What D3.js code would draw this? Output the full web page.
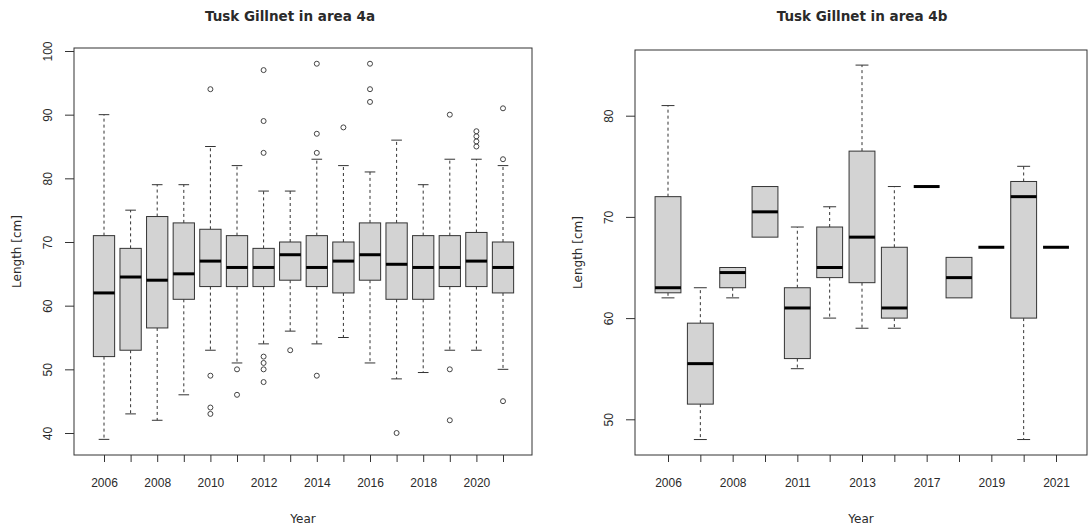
<!DOCTYPE html>
<html><head><meta charset="utf-8">
<script src="https://cdn.jsdelivr.net/npm/d3@7"></script>
<style>body{margin:0;background:#fff}svg{display:block;font-family:"DejaVu Sans",Verdana,sans-serif}</style>
</head><body>
<svg id="c" width="1089" height="527"></svg>
<script>
// ---------- Data: area 4a ----------
const yearsA = ["2006","2007","2008","2009","2010","2011","2012","2013","2014","2015","2016","2017","2018","2019","2020","2021"];
const loA  = [39, 43, 42, 46, 53, 51, 54, 56, 54, 55, 51, 48.5, 49.5, 53, 53, 50];
const q1A  = [52, 53, 56.5, 61, 63, 63, 63, 64, 63, 62, 64, 61, 61, 63, 63, 62];
const medA = [62, 64.5, 64, 65, 67, 66, 66, 68, 66, 67, 68, 66.5, 66, 66, 67, 66];
const q3A  = [71, 69, 74, 73, 72, 71, 69, 70, 71, 70, 73, 73, 71, 71, 71.5, 70];
const hiA  = [90, 75, 79, 79, 85, 82, 78, 78, 83, 82, 81, 86, 79, 83, 83, 82];
const outA = [[], [], [], [], [94, 49, 44, 43], [50, 46], [97, 89, 84, 52, 51, 50, 48], [53],
              [98, 87, 84, 49], [88], [98, 94, 92], [40], [], [90, 50, 42], [87.4, 86.6, 85.8, 85], [91, 83, 45]];
const yTicksA = [40, 50, 60, 70, 80, 90, 100];

// ---------- Data: area 4b ----------
const yearsB = ["2006","2007","2008","2010","2011","2012","2013","2016","2017","2018","2019","2020","2021"];
const loB  = [62, 48, 62, 68, 55, 60, 59, 59, 73, 62, 67, 48, 67];
const q1B  = [62.5, 51.5, 63, 68, 56, 64, 63.5, 60, 73, 62, 67, 60, 67];
const medB = [63, 55.5, 64.5, 70.5, 61, 65, 68, 61, 73, 64, 67, 72, 67];
const q3B  = [72, 59.5, 65, 73, 63, 69, 76.5, 67, 73, 66, 67, 73.5, 67];
const hiB  = [81, 63, 65, 73, 69, 71, 85, 73, 73, 66, 67, 75, 67];
const yTicksB = [50, 60, 70, 80];

const titles = ["Tusk Gillnet in area 4a", "Tusk Gillnet in area 4b"];
const xTitle = "Year", yTitle = "Length [cm]";

const svg = d3.select("#c");
const ink = "#333";
const txt = "#2a2a2a";

function panel(cfg) {
  const g = svg.append("g");
  const x = d3.scalePoint().domain(cfg.years).range([cfg.firstX, cfg.lastX]);
  const y = d3.scaleLinear().domain(cfg.yDom).range(cfg.yRange);
  const bw = x.step() * 0.8;

  // frame
  g.append("rect").attr("x", cfg.x0).attr("y", cfg.y0)
    .attr("width", cfg.x1 - cfg.x0).attr("height", cfg.y1 - cfg.y0)
    .attr("fill", "none").attr("stroke", ink).attr("stroke-width", 1);

  const data = cfg.years.map((yr, i) => ({yr, lo: cfg.lo[i], q1: cfg.q1[i], med: cfg.med[i], q3: cfg.q3[i], hi: cfg.hi[i], out: cfg.out ? cfg.out[i] : []}));
  const b = g.selectAll("g.box").data(data).join("g").attr("class", "box");
  // whiskers (dashed)
  b.filter(d => d.hi > d.q3).append("line")
    .attr("x1", d => x(d.yr)).attr("x2", d => x(d.yr))
    .attr("y1", d => y(d.q3)).attr("y2", d => y(d.hi))
    .attr("stroke", ink).attr("stroke-dasharray", "3,3");
  b.filter(d => d.lo < d.q1).append("line")
    .attr("x1", d => x(d.yr)).attr("x2", d => x(d.yr))
    .attr("y1", d => y(d.q1)).attr("y2", d => y(d.lo))
    .attr("stroke", ink).attr("stroke-dasharray", "3,3");
  // staples
  b.filter(d => d.hi > d.q3).append("line")
    .attr("x1", d => x(d.yr) - bw / 4).attr("x2", d => x(d.yr) + bw / 4)
    .attr("y1", d => y(d.hi)).attr("y2", d => y(d.hi)).attr("stroke", ink);
  b.filter(d => d.lo < d.q1).append("line")
    .attr("x1", d => x(d.yr) - bw / 4).attr("x2", d => x(d.yr) + bw / 4)
    .attr("y1", d => y(d.lo)).attr("y2", d => y(d.lo)).attr("stroke", ink);
  // box
  b.filter(d => d.q3 > d.q1).append("rect")
    .attr("x", d => x(d.yr) - bw / 2).attr("width", bw)
    .attr("y", d => y(d.q3)).attr("height", d => y(d.q1) - y(d.q3))
    .attr("fill", "#d3d3d3").attr("stroke", ink).attr("stroke-width", 1);
  // median
  b.append("line")
    .attr("x1", d => x(d.yr) - bw / 2).attr("x2", d => x(d.yr) + bw / 2)
    .attr("y1", d => y(d.med)).attr("y2", d => y(d.med))
    .attr("stroke", "#000").attr("stroke-width", 3);
  // outliers
  b.selectAll("circle").data(d => d.out.map(v => ({yr: d.yr, v}))).join("circle")
    .attr("cx", d => x(d.yr)).attr("cy", d => y(d.v)).attr("r", 2.5)
    .attr("fill", "none").attr("stroke", "#444").attr("stroke-width", 1);

  // x axis
  const xa = g.append("g").attr("transform", `translate(0,${cfg.y1})`)
    .call(d3.axisBottom(x).tickSizeOuter(0).tickSizeInner(7).tickPadding(16)
      .tickFormat((d, i) => i % 2 === 0 ? d : ""));
  xa.select(".domain").remove();
  xa.selectAll("line").attr("stroke", ink);
  xa.selectAll("text").attr("font-size", 12).attr("fill", txt).attr("font-family", null);

  // y axis
  const ya = g.append("g").attr("transform", `translate(${cfg.x0},0)`)
    .call(d3.axisLeft(y).tickValues(cfg.yTicks).tickSizeOuter(0).tickSizeInner(9).tickPadding(0));
  ya.select(".domain").remove();
  ya.selectAll("line").attr("stroke", ink);
  ya.selectAll(".tick text").attr("font-size", 12).attr("fill", txt).attr("font-family", null)
    .attr("text-anchor", "middle").attr("dy", 0)
    .attr("transform", "rotate(-90)").attr("x", 0).attr("y", -22);

  // titles
  g.append("text").attr("x", cfg.titleX).attr("y", 21).attr("text-anchor", "middle")
    .attr("font-size", 13.5).attr("font-weight", "bold").attr("fill", txt).text(cfg.title);
  g.append("text").attr("x", (cfg.x0 + cfg.x1) / 2).attr("y", 523).attr("text-anchor", "middle")
    .attr("font-size", 12).attr("fill", txt).text(xTitle);
  g.append("text").attr("transform", `translate(${cfg.x0 - 57},${(cfg.y0 + cfg.y1) / 2}) rotate(-90)`)
    .attr("text-anchor", "middle").attr("dy", "0.35em")
    .attr("font-size", 12).attr("fill", txt).text(yTitle);
}

panel({years: yearsA, lo: loA, q1: q1A, med: medA, q3: q3A, hi: hiA, out: outA,
  yTicks: yTicksA, yDom: [40, 100], yRange: [433, 51],
  x0: 74, x1: 532, y0: 48, y1: 455, firstX: 104, lastX: 503, title: titles[0], titleX: 290});
panel({years: yearsB, lo: loB, q1: q1B, med: medB, q3: q3B, hi: hiB, out: null,
  yTicks: yTicksB, yDom: [50, 80], yRange: [419.3, 115.7],
  x0: 635, x1: 1087, y0: 50, y1: 455, firstX: 668, lastX: 1056, title: titles[1], titleX: 862});
</script>
</body></html>
